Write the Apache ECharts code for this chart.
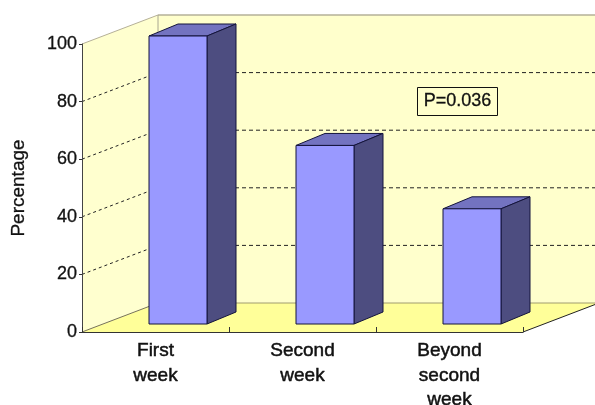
<!DOCTYPE html>
<html><head><meta charset="utf-8">
<style>html,body{margin:0;padding:0;background:#fff}#c{width:595px;height:405px}</style>
<script src="https://cdn.jsdelivr.net/npm/echarts@6/dist/echarts.min.js"></script>
</head><body><div id="c"></div>
<script>
const categories = ['First\nweek', 'Second\nweek', 'Beyond\nsecond\nweek'];
const percentages = [100, 62, 40];
const gridTicks = [20, 40, 60, 80];
const yTickLabels = [0, 20, 40, 60, 80, 100];
const annotation = 'P=0.036';

const DX = 76, DY = -29;          // depth of the box
const BOX = 22, BOY = -8;         // bar offset from front of floor
const BW = 58, BDX = 29, BDY = -12; // bar width and depth
const font = '"Liberation Sans", Arial, sans-serif';
const chart = echarts.init(document.getElementById('c'));

function poly(points, fill, stroke, lw) {
  return {type: 'polygon', shape: {points}, style: {fill, stroke: stroke || 'none', lineWidth: lw || 0}};
}
function line(x1, y1, x2, y2, stroke, lw, dash) {
  return {type: 'line', shape: {x1, y1, x2, y2}, style: {stroke, lineWidth: lw, lineDash: dash || null}};
}

function renderWalls(params, api) {
  const c = params.coordSys;
  const l = c.x, r = c.x + c.width;
  const t = api.coord([0, 100])[1], b = api.coord([0, 0])[1];
  return {type: 'group', children: [
    poly([[l + DX, t + DY], [r + DX, t + DY], [r + DX, b + DY], [l + DX, b + DY]], '#FFFFCC'),
    poly([[l, t], [l + DX, t + DY], [l + DX, b + DY], [l, b]], '#FFFFCF'),
    poly([[l, b], [r, b], [r + DX, b + DY], [l + DX, b + DY]], '#FFFF99'),
    line(l, t, l + DX, t + DY, '#B5B098', 1),
    line(l + DX, t + DY, r + DX, t + DY, '#B5B098', 1.5),
    line(l + DX, t + DY, l + DX, b + DY, '#A8A690', 1),
    line(l, b, l + DX, b + DY, '#77725A', 1),
    line(l + DX, b + DY, r + DX, b + DY, '#A09C70', 1),
    line(r, b, r + DX, b + DY, '#222', 1)
  ]};
}
function renderGrid(params, api) {
  const c = params.coordSys;
  const l = c.x, r = c.x + c.width;
  const y = api.coord([0, api.value(1)])[1];
  return {type: 'group', children: [
    line(l, y, l + DX, y + DY, '#222', 1, [3, 3]),
    line(l + DX, y + DY, r + DX, y + DY, '#222', 1, [4, 3])
  ]};
}
function renderBar(params, api) {
  const p = api.coord([api.value(0), api.value(1)]);
  const base = api.coord([api.value(0), 0]);
  const x0 = p[0] + BOX - BW / 2 + 0.5, x1 = x0 + BW;
  const yb = base[1] + BOY, yt = p[1] + BOY;
  const s = '#14143C';
  return {type: 'group', children: [
    poly([[x0, yt], [x1, yt], [x1 + BDX, yt + BDY], [x0 + BDX, yt + BDY]], '#7373C0', s, 1),
    poly([[x1, yt], [x1 + BDX, yt + BDY], [x1 + BDX, yb + BDY], [x1, yb]], '#4D4D80', s, 1),
    poly([[x0, yt], [x1, yt], [x1, yb], [x0, yb]], '#9999FF', s, 1)
  ]};
}

chart.setOption({
  animation: false,
  backgroundColor: '#fff',
  grid: {left: 82, top: 44, width: 441, height: 288, containLabel: false, outerBoundsMode: 'none'},
  xAxis: {
    type: 'category', data: categories, z: 5,
    axisLine: {lineStyle: {color: '#333', width: 1}},
    axisTick: {show: true, inside: true, length: 5, lineStyle: {color: '#333'}},
    axisLabel: {color: '#111', fontFamily: font, fontSize: 19, lineHeight: 24.5, margin: 7, interval: 0, hideOverlap: false,
      textBorderColor: '#111', textBorderWidth: 0.5},
    splitLine: {show: false}
  },
  yAxis: {
    type: 'value', min: 0, max: 100, interval: 20, z: 5,
    name: 'Percentage', nameLocation: 'middle', nameGap: 54,
    nameTextStyle: {color: '#111', fontFamily: font, fontSize: 19, textBorderColor: '#111', textBorderWidth: 0.3},
    axisLine: {show: true, lineStyle: {color: '#444', width: 1}},
    axisTick: {show: true, length: 3, lineStyle: {color: '#333'}},
    axisLabel: {color: '#111', fontFamily: font, fontSize: 18, margin: 5, textBorderColor: '#111', textBorderWidth: 0.3,
      formatter: v => yTickLabels.includes(v) ? String(v) : ''},
    splitLine: {show: false}
  },
  series: [
    {type: 'custom', z: 1, silent: true, renderItem: renderWalls, data: [[0, 0]], clip: false},
    {type: 'custom', z: 2, silent: true, renderItem: renderGrid, clip: false,
      data: gridTicks.map(t => [0, t])},
    {type: 'custom', z: 3, silent: true, renderItem: renderBar, clip: false,
      data: percentages.map((v, i) => [i, v])}
  ],
  graphic: [{
    type: 'rect', z: 10, shape: {x: 417.5, y: 87.5, width: 80, height: 28},
    style: {fill: '#FFFFCC', stroke: '#111', lineWidth: 1}
  }, {
    type: 'text', x: 457.5, y: 101.5, z: 11,
    style: {text: annotation, fill: '#111', stroke: '#111', lineWidth: 0.3, font: '18px ' + font,
      align: 'center', verticalAlign: 'middle'}
  }]
});
</script></body></html>
